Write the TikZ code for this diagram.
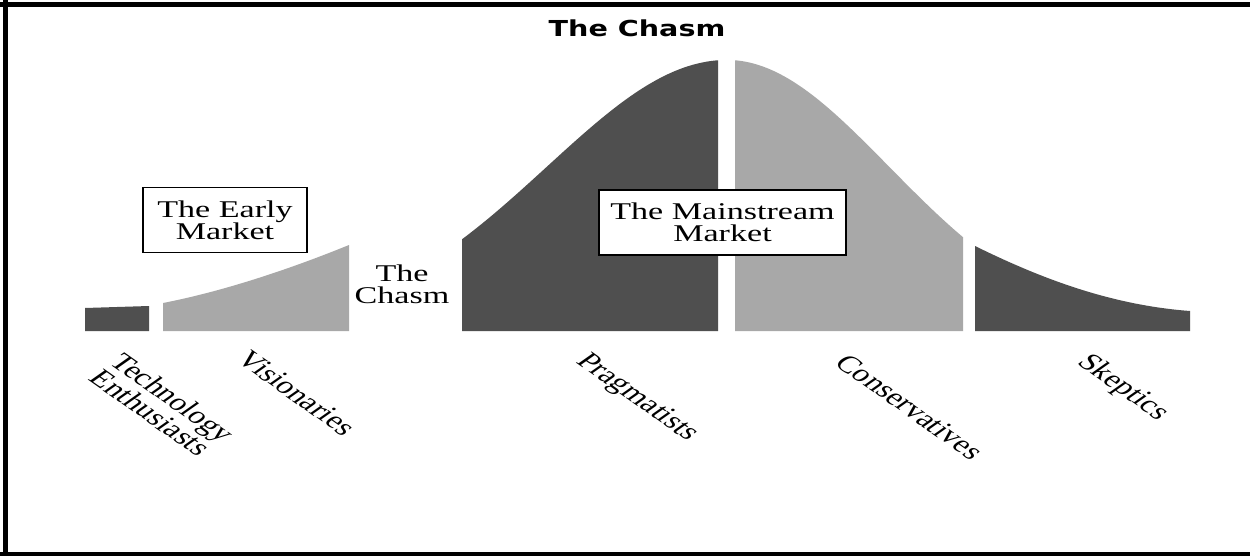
\documentclass[tikz,border=0pt]{standalone}
\usepackage{fontspec}
\setmainfont{Liberation Serif}
\newfontfamily\titlefont{DejaVu Sans}
\usepackage{graphicx}
\newcommand{\sx}[1]{\scalebox{1.42}[1]{#1}}
\definecolor{darkseg}{gray}{0.31}
\definecolor{lightseg}{gray}{0.66}
\begin{document}
\begin{tikzpicture}[x=1pt,y=-1pt,
  lbl/.style={font=\fontsize{24}{22}\selectfont, inner sep=0pt, align=center},
  box/.style={draw, line width=1.5pt, fill=white, align=center, inner sep=0pt,
              font=\fontsize{24}{22}\selectfont},
  frameline/.style={line width=5pt, black}]
\useasboundingbox (0,0) rectangle (1250,556);
\fill[white] (0,0) rectangle (1250,556);

% frame
\draw[frameline] (0,4.5) -- (1250,4.5);
\draw[frameline] (5.5,0) -- (5.5,556);
\draw[line width=4pt] (0,554) -- (1250,554);

% title
\node[inner sep=0pt] (title) at (637,28)
  {\scalebox{1.3}[1]{\titlefont\bfseries\fontsize{22}{24}\selectfont The Chasm}};

% segments of the curve
\fill[darkseg] (85,331) -- (85,308) -- (149,306) -- (149,331) -- cycle;
\fill[lightseg] (163,331) -- (163,303) .. controls (230,290) and (300,265) .. (349,245)
  -- (349,331) -- cycle;
\fill[darkseg] (462,331) -- plot[domain=462:718, samples=80]
  (\x, {331-271*exp(-0.5*((\x-727)/180)^2)}) -- (718,331) -- cycle;
\fill[lightseg] (735,331) -- plot[domain=735:963, samples=80]
  (\x, {331-271*exp(-0.5*((\x-727)/162)^2)}) -- (963,331) -- cycle;
\fill[darkseg] (975,331) -- (975,246) .. controls (1040,278) and (1110,305) .. (1190,311)
  -- (1190,331) -- cycle;

% boxes
\node[box, minimum width=164pt, minimum height=65pt] (early) at (225,220)
  {\sx{The Early}\\\sx{Market}};
\node[box, minimum width=247pt, minimum height=65pt] (main) at (722.5,222.5)
  {\sx{The Mainstream}\\\sx{Market}};

% middle chasm label
\node[lbl] (chasm) at (402,284) {\sx{The}\\\sx{Chasm}};

% rotated labels
\begin{scope}[shift={(162,405)}, xscale=1.42]
  \node[lbl, rotate=-45, transform shape] (tech) at (0,0) {Technology\\Enthusiasts};
\end{scope}
\begin{scope}[shift={(297,393)}, xscale=1.42]
  \node[lbl, rotate=-45, transform shape] (vis) at (0,0) {Visionaries};
\end{scope}
\begin{scope}[shift={(637,398)}, xscale=1.42]
  \node[lbl, rotate=-45, transform shape] (prag) at (0,0) {Pragmatists};
\end{scope}
\begin{scope}[shift={(910,407)}, xscale=1.42]
  \node[lbl, rotate=-45, transform shape] (cons) at (0,0) {Conservatives};
\end{scope}
\begin{scope}[shift={(1123,388)}, xscale=1.42]
  \node[lbl, rotate=-45, transform shape] (skep) at (0,0) {Skeptics};
\end{scope}
\end{tikzpicture}
\end{document}
